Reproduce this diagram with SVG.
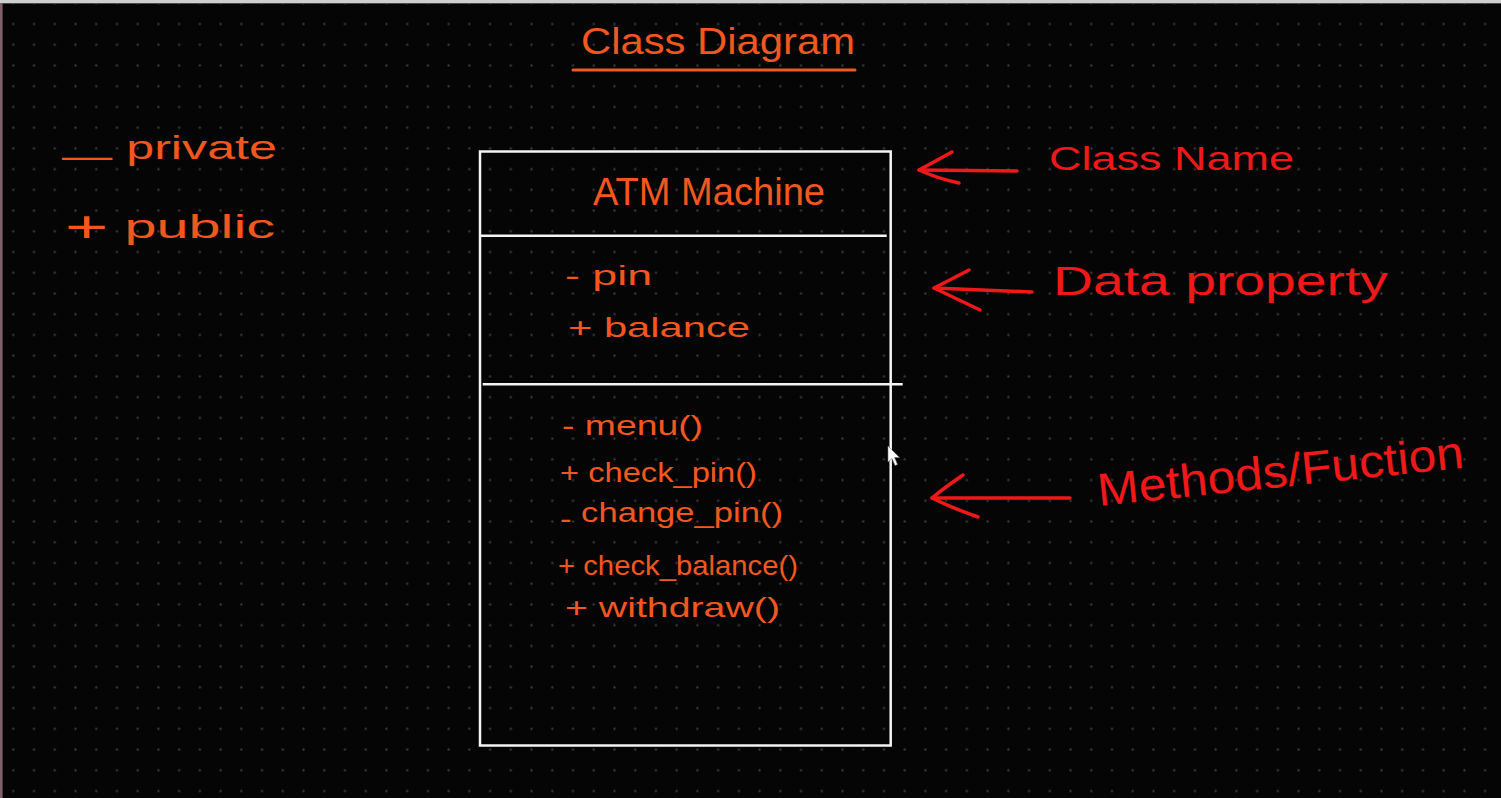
<svg xmlns="http://www.w3.org/2000/svg" width="1501" height="798" viewBox="0 0 1501 798">
  <defs>
    <pattern id="dots" patternUnits="userSpaceOnUse" x="2.94" y="13.64" width="20.73" height="20.73">
      <circle cx="10.365" cy="10.365" r="1.15" fill="#3a3a3a"/>
    </pattern>
    <style>
      .o { fill: #f2571f; font-family: "Liberation Sans", Arial, sans-serif; }
      .r { fill: #f01818; font-family: "Liberation Sans", Arial, sans-serif; }
      .box { fill: none; stroke: #f4f4f4; stroke-width: 2.5; }
      .arrow { fill: none; stroke: #f01818; stroke-width: 3.5; stroke-linecap: round; stroke-linejoin: round; }
      .uline { fill: none; stroke: #f2571f; stroke-width: 3; stroke-linecap: round; }
    </style>
  </defs>

  <rect x="0" y="0" width="1501" height="798" fill="#050505"/>
  <rect x="0" y="0" width="1501" height="798" fill="url(#dots)"/>
  <rect x="0" y="0" width="1501" height="3" fill="#cfcfcf"/>
  <rect x="0" y="3" width="1501" height="1" fill="#4a4a4a"/>
  <rect x="0" y="3" width="2.6" height="795" fill="#7d6169"/>

  <g id="title">
    <text class="o" x="581" y="54" font-size="36" textLength="274" lengthAdjust="spacingAndGlyphs">Class Diagram</text>
    <path class="uline" d="M573,70 H855"/>
  </g>

  <g id="legend-private">
    <text class="o" x="62" y="159" font-size="34" textLength="215" lengthAdjust="spacingAndGlyphs"><tspan dy="8">—</tspan><tspan dy="-8"> private</tspan></text>
  </g>
  <g id="legend-public">
    <text class="o" x="65" y="238" font-size="34" textLength="210" lengthAdjust="spacingAndGlyphs"><tspan font-size="44" dy="4">+</tspan><tspan dy="-4"> public</tspan></text>
  </g>

  <g id="class-atm-machine">
    <path class="box" d="M480,151.5 H890.7 V745.5 H480 Z"/>
    <path class="box" d="M480,235.7 H886.7"/>
    <path class="box" d="M482.7,384.3 H902.7"/>
    <g id="class-name">
      <text class="o" x="593" y="205" font-size="38" textLength="232" lengthAdjust="spacingAndGlyphs">ATM Machine</text>
    </g>
    <g id="class-attributes">
      <text class="o" x="565" y="285" font-size="28" textLength="87" lengthAdjust="spacingAndGlyphs">- pin</text>
      <text class="o" x="568" y="337" font-size="28" textLength="182" lengthAdjust="spacingAndGlyphs">+ balance</text>
    </g>
    <g id="class-methods">
      <text class="o" x="562" y="435" font-size="28" textLength="141" lengthAdjust="spacingAndGlyphs">- menu()</text>
      <text class="o" x="560" y="482" font-size="28" textLength="197" lengthAdjust="spacingAndGlyphs">+ check_pin()</text>
      <text class="o" x="560" y="522" font-size="28" textLength="223" lengthAdjust="spacingAndGlyphs"><tspan dy="6">-</tspan><tspan dy="-6"> change_pin()</tspan></text>
      <text class="o" x="558" y="575" font-size="28" textLength="240" lengthAdjust="spacingAndGlyphs">+ check_balance()</text>
      <text class="o" x="565" y="617" font-size="28" textLength="215" lengthAdjust="spacingAndGlyphs">+ withdraw()</text>
    </g>
  </g>

  <g id="label-class-name">
    <text class="r" x="1049" y="170" font-size="34" textLength="245" lengthAdjust="spacingAndGlyphs">Class Name</text>
  </g>
  <g id="label-data-property">
    <text class="r" x="1053" y="295" font-size="40" textLength="335" lengthAdjust="spacingAndGlyphs">Data property</text>
  </g>
  <g id="label-methods">
    <text class="r" x="1099" y="506" font-size="46" textLength="368" lengthAdjust="spacingAndGlyphs" transform="rotate(-6 1099 506)">Methods/Fuction</text>
  </g>

  <g id="connectors">
    <path class="arrow" d="M1017,171 L919,170"/>
    <path class="arrow" d="M952,152 Q932,163 919,170 Q936,178 959,183"/>
    <path class="arrow" d="M1032,292 L934,288"/>
    <path class="arrow" d="M969,270 Q948,281 934,288 Q955,298 980,310"/>
    <path class="arrow" d="M1070,498 L932,498"/>
    <path class="arrow" d="M963,475 Q944,488 932,498 Q952,508 978,517"/>
  </g>

  <polygon points="888,446 888,462 892,458.5 895,465.5 897.5,464.5 894.5,457.5 899.5,457.5" fill="#ffffff" stroke="#777777" stroke-width="0.6"/>
</svg>
